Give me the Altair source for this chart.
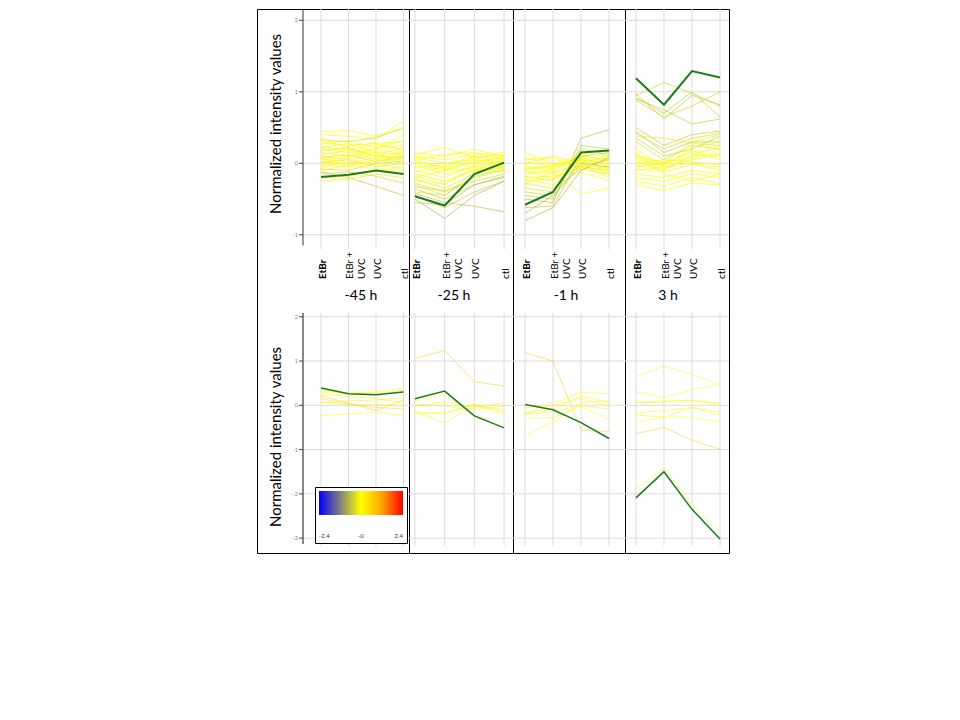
import altair as alt
import pandas as pd

# ---------------- data ----------------
conditions = ["EtBr", "EtBr + UVC", "UVC", "ctl"]
tick_labels = ["EtBr", "EtBr +\nUVC", "UVC", "ctl"]
timepoints = ["-45 h", "-25 h", "-1 h", "3 h"]
upper_ticks = [-1, 0, 1, 2]
lower_ticks = [-3, -2, -1, 0, 1, 2]
legend_values = [-2.4, 0, 2.4]
y_title = "Normalized intensity values"

# upper cluster, one profile per gene (EtBr, EtBr + UVC, UVC, ctl)
upper_m45 = [
    [0.44, 0.46, 0.38, 0.47], [0.40, 0.38, 0.33, 0.60], [0.33, 0.30, 0.36, 0.50],
    [0.30, 0.25, 0.28, 0.30], [0.27, 0.32, 0.22, 0.25], [0.24, 0.18, 0.26, 0.20],
    [0.22, 0.28, 0.15, 0.12], [0.20, 0.15, 0.20, 0.33], [0.18, 0.22, 0.10, 0.08],
    [0.15, 0.10, 0.18, 0.15], [0.12, 0.18, 0.05, 0.02], [0.10, 0.05, 0.12, 0.22],
    [0.08, 0.12, 0.02, 0.10], [0.06, 0.00, 0.08, 0.05], [0.05, 0.08, 0.15, -0.02],
    [0.03, -0.03, 0.05, 0.12], [0.01, 0.05, -0.05, 0.00], [-0.02, -0.05, 0.03, 0.06],
    [-0.05, 0.02, -0.02, -0.08], [-0.08, -0.10, 0.00, 0.03], [-0.10, -0.02, -0.08, -0.12],
    [-0.12, -0.20, -0.32, -0.45], [-0.15, -0.12, -0.18, -0.28], [-0.20, -0.18, -0.10, -0.05],
    [-0.25, -0.22, -0.15, -0.20], [0.35, 0.20, 0.10, 0.15], [0.00, 0.25, 0.28, 0.18],
    [-0.05, 0.10, 0.20, 0.40],
]
upper_m45_score = [0.0, 0.0, -0.4, 0.0, 0.05, 0.0, 0.0, 0.0, -0.2, 0.0, 0.0, 0.0, -0.3, 0.0,
                   0.0, 0.0, -0.2, 0.0, 0.0, -0.3, 0.0, -0.5, -0.4, 0.0, -0.1, 0.0, 0.0, 0.0]
upper_m45_green = [-0.19, -0.16, -0.10, -0.15]

upper_m25 = [
    [0.15, 0.10, 0.20, 0.08], [0.12, 0.22, 0.08, 0.12], [0.10, 0.05, 0.12, 0.15],
    [0.08, 0.00, 0.05, 0.02], [0.05, 0.12, 0.15, 0.05], [0.02, -0.05, 0.00, 0.10],
    [0.00, -0.10, 0.05, -0.02], [-0.03, -0.15, -0.05, 0.05], [-0.06, -0.02, 0.10, 0.00],
    [-0.10, -0.20, -0.02, -0.05], [-0.15, -0.25, -0.10, 0.02], [-0.18, -0.30, -0.05, -0.08],
    [-0.22, -0.35, -0.15, -0.05], [-0.25, -0.28, -0.08, -0.12], [-0.28, -0.40, -0.20, -0.10],
    [-0.30, -0.45, -0.12, -0.02], [-0.33, -0.38, -0.25, -0.15], [-0.36, -0.50, -0.30, -0.18],
    [-0.40, -0.45, -0.18, -0.08], [-0.42, -0.55, -0.60, -0.68], [-0.45, -0.62, -0.40, -0.25],
    [-0.50, -0.77, -0.45, -0.25], [-0.55, -0.58, -0.30, -0.20], [-0.20, -0.10, 0.02, 0.08],
    [0.05, -0.08, -0.10, -0.05], [-0.12, -0.05, 0.08, 0.12],
]
upper_m25_score = [0.0, 0.0, 0.0, 0.0, 0.0, 0.0, 0.0, 0.0, 0.0, 0.0, -0.1, 0.0, -0.2, 0.0,
                   -0.3, -0.2, -0.4, -0.5, -0.3, -0.6, -0.5, -0.7, -0.6, 0.0, 0.0, 0.0]
upper_m25_green = [-0.46, -0.59, -0.15, 0.01]

upper_m1 = [
    [0.15, 0.00, -0.05, -0.10], [0.05, 0.08, -0.08, -0.05], [0.02, -0.05, 0.05, 0.00],
    [0.00, 0.10, 0.00, -0.15], [-0.03, -0.08, 0.10, 0.05], [-0.05, -0.12, -0.02, -0.20],
    [-0.08, -0.03, 0.08, -0.05], [-0.10, -0.15, 0.02, 0.08], [-0.12, -0.20, -0.05, -0.10],
    [-0.15, -0.10, 0.12, 0.02], [-0.18, -0.25, 0.05, -0.08], [-0.20, -0.18, -0.12, -0.25],
    [-0.22, -0.30, 0.00, 0.10], [-0.25, -0.22, 0.08, -0.02], [-0.28, -0.35, -0.08, -0.15],
    [-0.30, -0.12, -0.43, -0.35], [-0.35, -0.40, 0.20, 0.12], [-0.40, -0.45, -0.05, 0.05],
    [-0.45, -0.50, 0.25, 0.20], [-0.50, -0.55, 0.35, 0.47], [-0.62, -0.60, 0.10, 0.15],
    [-0.70, -0.45, 0.00, -0.05], [-0.80, -0.62, -0.10, 0.08], [-0.08, -0.05, 0.15, 0.10],
    [0.08, -0.02, 0.03, -0.12],
]
upper_m1_score = [0.0, 0.0, 0.0, 0.0, 0.0, 0.0, 0.0, 0.0, 0.0, 0.0, -0.1, 0.0, -0.1, 0.0,
                  -0.2, 0.0, -0.3, -0.4, -0.5, -0.6, -0.5, -0.6, -0.7, 0.0, 0.0]
upper_m1_green = [-0.58, -0.40, 0.15, 0.18]

upper_p3 = [
    [0.95, 1.13, 0.98, 0.80], [0.92, 0.70, 1.00, 0.65], [0.97, 0.62, 0.95, 0.82],
    [0.90, 0.75, 0.55, 0.62], [0.88, 0.65, 0.80, 1.00], [0.50, 0.25, 0.40, 0.45],
    [0.45, 0.15, 0.30, 0.30], [0.42, 0.20, 0.35, 0.42], [0.38, 0.35, 0.28, 0.25],
    [0.35, 0.10, 0.20, 0.38], [0.30, 0.05, 0.25, 0.20], [0.12, 0.00, 0.15, 0.20],
    [0.10, -0.05, 0.22, 0.30], [0.08, 0.02, 0.08, 0.15], [0.05, -0.02, 0.18, 0.05],
    [0.02, -0.08, 0.10, 0.25], [0.00, 0.05, 0.02, -0.02], [-0.02, -0.10, 0.12, 0.10],
    [-0.05, 0.00, 0.30, 0.40], [-0.08, -0.12, -0.02, -0.05], [-0.10, -0.05, 0.05, 0.12],
    [-0.15, -0.20, -0.10, -0.15], [-0.20, -0.25, -0.15, -0.20], [-0.25, -0.32, -0.20, -0.28],
    [-0.30, -0.38, -0.28, -0.30], [0.20, -0.05, 0.00, -0.10], [0.15, -0.15, -0.25, -0.15],
]
upper_p3_score = [-0.4, -0.5, -0.5, -0.5, -0.4, -0.5, -0.5, -0.4, -0.2, -0.4, -0.3, 0.0, 0.0, 0.0,
                  0.0, 0.0, 0.0, 0.0, -0.1, 0.0, 0.0, 0.0, 0.0, 0.0, 0.0, 0.0, 0.0]
upper_p3_green = [1.19, 0.82, 1.29, 1.20]

# lower cluster
lower_m45 = [
    [0.33, 0.28, 0.30, 0.37], [0.30, 0.25, 0.27, 0.33], [0.21, 0.05, -0.12, 0.12],
    [0.15, 0.02, -0.05, -0.08], [0.25, 0.20, 0.15, 0.05], [0.08, 0.00, 0.02, -0.02],
    [-0.23, -0.20, -0.15, -0.24], [0.05, 0.10, 0.12, 0.17],
]
lower_m45_score = [0.1, 0.1, 0.8, 0.6, 0.2, 0.2, 0.1, 0.2]
lower_m45_green = [0.39, 0.26, 0.24, 0.30]

lower_m25 = [
    [1.06, 1.24, 0.53, 0.44], [0.10, 0.25, -0.22, -0.50], [-0.02, 0.08, -0.05, 0.06],
    [-0.15, -0.39, -0.02, -0.10], [-0.18, -0.17, 0.02, -0.21], [0.02, -0.02, -0.10, -0.02],
    [-0.15, -0.20, 0.03, -0.15],
]
lower_m25_score = [0.8, 0.1, 0.2, 0.2, 0.1, 0.2, 0.1]
lower_m25_green = [0.15, 0.32, -0.24, -0.51]

lower_m1 = [
    [1.19, 1.00, -0.56, -0.59], [-0.68, -0.39, 0.06, 0.10], [-0.20, 0.02, 0.30, 0.26],
    [-0.17, -0.09, 0.21, 0.06], [-0.29, -0.28, -0.02, -0.32], [-0.20, -0.15, 0.00, -0.09],
    [-0.05, 0.00, 0.15, -0.02],
]
lower_m1_score = [0.8, 0.1, 0.1, 0.2, 0.1, 0.2, 0.1]
lower_m1_green = [0.02, -0.10, -0.39, -0.75]

lower_p3 = [
    [-1.88, -1.41, -2.27, -2.87], [-0.64, -0.50, -0.79, -0.99], [0.65, 0.88, 0.70, 0.47],
    [0.30, 0.18, 0.35, 0.47], [0.07, 0.10, 0.10, 0.03], [0.06, 0.07, 0.12, 0.05],
    [-0.17, -0.12, -0.05, -0.22], [-0.22, -0.27, -0.05, -0.15], [-0.38, -0.27, -0.27, -0.38],
]
lower_p3_score = [0.1, 0.8, 0.1, 0.1, 0.2, 0.1, 0.1, 0.2, 0.1]
lower_p3_green = [-2.09, -1.50, -2.35, -3.02]

upper = [(upper_m45, upper_m45_score, upper_m45_green),
         (upper_m25, upper_m25_score, upper_m25_green),
         (upper_m1, upper_m1_score, upper_m1_green),
         (upper_p3, upper_p3_score, upper_p3_green)]
lower = [(lower_m45, lower_m45_score, lower_m45_green),
         (lower_m25, lower_m25_score, lower_m25_green),
         (lower_m1, lower_m1_score, lower_m1_green),
         (lower_p3, lower_p3_score, lower_p3_green)]

# ---------------- styling / layout ----------------
H = 544
col_w = [152, 104, 112, 104]
x_dom = [[-2.327, 3.2], [-0.2, 3.3], [-0.43, 3.57], [-0.39, 3.32]]
title_x = [104, 45, 53, 43]
TOP_DOM = [-5.45, 2.158]
BOT_DOM = [-3.336, 8.952]
TOP_SPAN = (2.158, -1.2)
BOT_SPAN = (2.085, -3.18)
AXIS_X = 46
GRID = "#dcdcdc"
GREEN = "#1c7c1c"
FONT = "Lato"

color_scale = alt.Scale(domain=[-2.4, -1.2, 0, 1.2, 2.4],
                        range=["#0000ff", "#808080", "#ffff00", "#ffa500", "#ff0000"],
                        interpolate="rgb")
legend = alt.Legend(orient="none", legendX=58, legendY=478, direction="horizontal",
                    gradientLength=84, gradientThickness=24, title=None,
                    values=legend_values,
                    labelExpr="datum.value == 0 ? '-0' : '' + datum.value",
                    labelFontSize=6, labelColor="#333", labelOffset=18, padding=4,
                    strokeColor="black", fillColor="white", gradientStrokeWidth=0,
                    labelFont=FONT)


def frame(profiles, scores):
    rows = []
    for i, (vals, s) in enumerate(zip(profiles, scores)):
        for j, v in enumerate(vals):
            rows.append({"gene": i, "idx": j, "condition": conditions[j], "value": v, "score": s})
    return pd.DataFrame(rows)


def group(k, data, dom, ticks, span, first, green_w, opacity, axis_color, axis_w):
    profiles, scores, green = data
    xsc = alt.Scale(domain=x_dom[k], nice=False, zero=False)
    ysc = alt.Scale(domain=dom, nice=False, zero=False)
    w = col_w[k]
    tick_df = pd.DataFrame({"v": ticks, "lab": [str(t) for t in ticks]})
    hgrid = alt.Chart(tick_df).mark_rule(color=GRID, strokeWidth=1).encode(
        y=alt.Y("v:Q", scale=ysc, axis=None),
        x=alt.value(AXIS_X if first else 0), x2=alt.value(w))
    vgrid = alt.Chart(pd.DataFrame({"idx": list(range(4)), "a": [span[0]] * 4,
                                    "b": [span[1]] * 4})).mark_rule(
        color=GRID, strokeWidth=1).encode(
        x=alt.X("idx:Q", scale=xsc, axis=None),
        y=alt.Y("a:Q", scale=ysc, axis=None), y2="b:Q")
    lines = alt.Chart(frame(profiles, scores)).mark_line(
        strokeWidth=1, strokeOpacity=opacity).encode(
        x=alt.X("idx:Q", scale=xsc, axis=None),
        y=alt.Y("value:Q", scale=ysc, axis=None),
        color=alt.Color("score:Q", scale=color_scale, legend=legend),
        detail="gene:N", order="idx:Q")
    gline = alt.Chart(pd.DataFrame({"idx": list(range(4)), "condition": conditions,
                                    "value": green})).mark_line(
        color=GREEN, strokeWidth=green_w).encode(
        x=alt.X("idx:Q", scale=xsc, axis=None),
        y=alt.Y("value:Q", scale=ysc, axis=None), order="idx:Q")
    layers = [hgrid, vgrid, lines, gline]
    if first:
        ax = alt.Chart(pd.DataFrame({"a": [span[0]], "b": [span[1] + 0.05]})).mark_rule(
            color=axis_color, strokeWidth=axis_w).encode(
            x=alt.value(AXIS_X), y=alt.Y("a:Q", scale=ysc, axis=None), y2="b:Q")
        tks = alt.Chart(tick_df).mark_rule(color="#444", strokeWidth=1).encode(
            y=alt.Y("v:Q", scale=ysc, axis=None),
            x=alt.value(AXIS_X - 4), x2=alt.value(AXIS_X))
        tlabs = alt.Chart(tick_df).mark_text(
            align="right", baseline="middle", fontSize=6, color="#888", font=FONT).encode(
            y=alt.Y("v:Q", scale=ysc, axis=None), x=alt.value(AXIS_X - 5), text="lab:N")
        layers += [ax, tks, tlabs]
    return alt.layer(*layers)


def column(k):
    first = k == 0
    xsc = alt.Scale(domain=x_dom[k], nice=False, zero=False)
    top = group(k, upper[k], TOP_DOM, upper_ticks, TOP_SPAN, first, 2, 0.7, "#333", 1)
    bot = group(k, lower[k], BOT_DOM, lower_ticks, BOT_SPAN, first, 1.5, 0.5, "#888", 2)
    lab = pd.DataFrame({"idx": list(range(4)), "label": tick_labels})
    lab_bold = alt.Chart(lab).transform_filter("datum.idx == 0").mark_text(
        angle=270, align="left", baseline="middle", fontSize=10, fontWeight="bold",
        font=FONT, dy=2, color="black").encode(
        x=alt.X("idx:Q", scale=xsc, axis=None), y=alt.value(270), text="label:N")
    lab_norm = alt.Chart(lab).transform_filter("datum.idx > 0").mark_text(
        angle=270, align="left", baseline="middle", fontSize=10, font=FONT, dy=2,
        lineBreak="\n", lineHeight=12, color="black").encode(
        x=alt.X("idx:Q", scale=xsc, axis=None), y=alt.value(270), text="label:N")
    ttl = alt.Chart(pd.DataFrame({"t": [timepoints[k]]})).mark_text(
        fontSize=14, font=FONT, color="black").encode(
        x=alt.value(title_x[k]), y=alt.value(287), text="t:N")
    layers = [top, bot, lab_bold, lab_norm, ttl]
    if first:
        yt = alt.Chart(pd.DataFrame({"t": [y_title, y_title], "yy": [115, 428]})).mark_text(
            angle=270, fontSize=15, font=FONT, color="black").encode(
            x=alt.value(19), y=alt.Y("yy:Q", scale=None), text="t:N")
        layers.append(yt)
    return alt.layer(*layers).resolve_scale(y="independent").properties(
        width=col_w[k], height=H)


chart = alt.hconcat(*[column(k) for k in range(4)], spacing=0, bounds="flush").properties(
    padding={"left": 248, "top": 0, "right": 0, "bottom": 0},
    background="white",
).configure_view(stroke="black", strokeWidth=1)

chart.save("out.html", embed_options={"renderer": "svg", "actions": False})
